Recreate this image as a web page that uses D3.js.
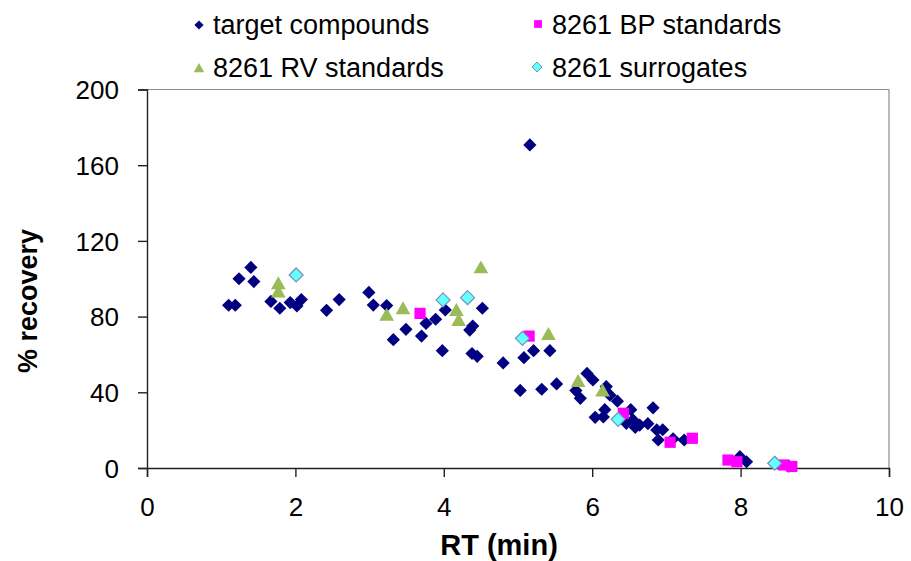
<!DOCTYPE html>
<html>
<head>
<meta charset="utf-8">
<script src="https://cdn.jsdelivr.net/npm/d3@7"></script>
<style>
html,body{margin:0;padding:0;background:#fff;}
svg{display:block;}
text{font-family:"Liberation Sans",Arial,sans-serif;fill:#000;}
</style>
</head>
<body>
<svg id="chart" width="911" height="561"></svg>
<script>
// ---- data ----
const targetRT  = [1.10,1.19,1.24,1.40,1.44,1.67,1.79,1.93,2.02,2.08,2.42,2.59,2.99,3.05,3.23,3.32,3.49,3.70,3.76,3.89,4.02,3.98,4.35,4.39,4.52,4.38,4.45,4.80,5.03,5.08,5.16,5.21,5.43,5.32,5.52,5.78,5.84,5.93,6.01,6.19,6.24,6.34,6.17,6.04,6.15,6.52,6.82,6.46,6.55,6.64,6.58,6.75,6.87,6.95,6.89,7.09,7.24,7.99,8.08,8.65];
const targetRec = [86,86,100,106,98.5,88,84.4,87.4,85.6,89,83.3,89,92.8,86.1,85.8,67.8,73.3,69.7,76.4,78.6,83.5,62,72.9,75,84.4,60.5,59,55.5,41,58.3,170.7,62,62,41.6,44.4,40.9,36.8,50,46.5,43,38.5,35.3,30.8,26.8,27,30.8,31.8,23.6,25.4,22.7,21.5,23.4,20.1,20.2,14.8,15.4,14.8,6,3.3,1];
const bpRT  = [3.68,5.15,6.42,7.05,7.35,7.83,7.95,8.58,8.69];
const bpRec = [81.7,69.7,28.9,13.6,15.7,4.2,3.3,1.6,0.8];
const rvRT  = [1.77,1.77,3.23,3.45,4.17,4.20,4.50,5.41,5.81,6.14];
const rvRec = [97.6,93.2,81,84.4,83.5,78.2,106,70.8,46,40.9];
const surRT  = [2.01,3.99,4.32,5.06,6.35,8.46];
const surRec = [102,88.8,90,68.5,25.7,2.5];
const xTicks = [0,2,4,6,8,10];
const yTicks = [0,40,80,120,160,200];
const seriesNames = ["target compounds","8261 BP standards","8261 RV standards","8261 surrogates"];

// ---- layout ----
const svg = d3.select("#chart");
const x = d3.scaleLinear().domain([0,10]).range([147,889]);
const y = d3.scaleLinear().domain([0,200]).range([468,89.5]);

// plot frame (top/right grey)
svg.append("line").attr("x1",x(0)).attr("x2",x(10)).attr("y1",y(200)).attr("y2",y(200)).attr("stroke","#8c8c8c").attr("stroke-width",1.2);
svg.append("line").attr("x1",x(10)).attr("x2",x(10)).attr("y1",y(200)).attr("y2",y(0)).attr("stroke","#8c8c8c").attr("stroke-width",1.2);

// axes
const yAxis = d3.axisLeft(y).tickValues(yTicks).tickSize(9).tickPadding(19).tickFormat(d3.format("d"));
const xAxis = d3.axisBottom(x).tickValues(xTicks).tickSize(9).tickPadding(21).tickFormat(d3.format("d"));
const gy = svg.append("g").attr("transform",`translate(${x(0)},0)`).call(yAxis);
const gx = svg.append("g").attr("transform",`translate(0,${y(0)})`).call(xAxis);
[gx,gy].forEach(g=>{
  g.select(".domain").attr("stroke","#222").attr("stroke-width",1.4);
  g.selectAll(".tick line").attr("stroke","#222").attr("stroke-width",1.4);
  g.selectAll(".tick text").attr("font-family","Liberation Sans, Arial, sans-serif").attr("font-size",26).attr("fill","#000");
});
gy.selectAll(".tick text").attr("dy","0.36em");
gx.selectAll(".tick text").attr("dy","0.71em");

// axis titles
svg.append("text").attr("transform","translate(37,301) rotate(-90)").attr("text-anchor","middle")
  .attr("font-weight","bold").attr("font-size",27).text("% recovery");
svg.append("text").attr("x",499).attr("y",555).attr("text-anchor","middle")
  .attr("font-weight","bold").attr("font-size",29).text("RT (min)");

// marker shapes
const diamond = (s)=>({draw(ctx){ctx.moveTo(0,-s);ctx.lineTo(s,0);ctx.lineTo(0,s);ctx.lineTo(-s,0);ctx.closePath();}});
const square = (s)=>({draw(ctx){ctx.rect(-s,-s,2*s,2*s);}});
const triangle = (s)=>({draw(ctx){ctx.moveTo(0,-s);ctx.lineTo(s*1.05,s*0.85);ctx.lineTo(-s*1.05,s*0.85);ctx.closePath();}});
const styles = [
  {type:diamond(6.6), fill:"#000080", stroke:"none", legend:diamond(4.6)},
  {type:square(5.6), fill:"#ff00ff", stroke:"none", legend:square(3.9)},
  {type:triangle(7), fill:"#9bbb59", stroke:"none", legend:triangle(5)},
  {type:diamond(7), fill:"#66ffff", stroke:"#7391b8", legend:diamond(5)}
];
const series = [
  {rt:targetRT, rec:targetRec},
  {rt:bpRT, rec:bpRec},
  {rt:rvRT, rec:rvRec},
  {rt:surRT, rec:surRec}
];
series.forEach((s,i)=>{
  const st = styles[i];
  const pts = s.rt.map((r,j)=>({rt:r, rec:s.rec[j]}));
  svg.append("g").selectAll("path").data(pts).join("path")
    .attr("d", d3.symbol().type(st.type)())
    .attr("transform", d=>`translate(${x(d.rt)},${y(d.rec)})`)
    .attr("fill", st.fill).attr("stroke", st.stroke).attr("stroke-width",1.2);
});

// legend
const legPos = [[199,25],[538,24],[199,68],[537,67]];
const legText = [[213,34],[552,34],[213,77],[552,77]];
seriesNames.forEach((n,i)=>{
  const st = styles[i];
  svg.append("path").attr("d", d3.symbol().type(st.legend)())
    .attr("transform",`translate(${legPos[i][0]},${legPos[i][1]})`)
    .attr("fill",st.fill).attr("stroke",st.stroke).attr("stroke-width",1);
  svg.append("text").attr("x",legText[i][0]).attr("y",legText[i][1]).attr("font-size",27).text(n);
});
</script>
</body>
</html>
